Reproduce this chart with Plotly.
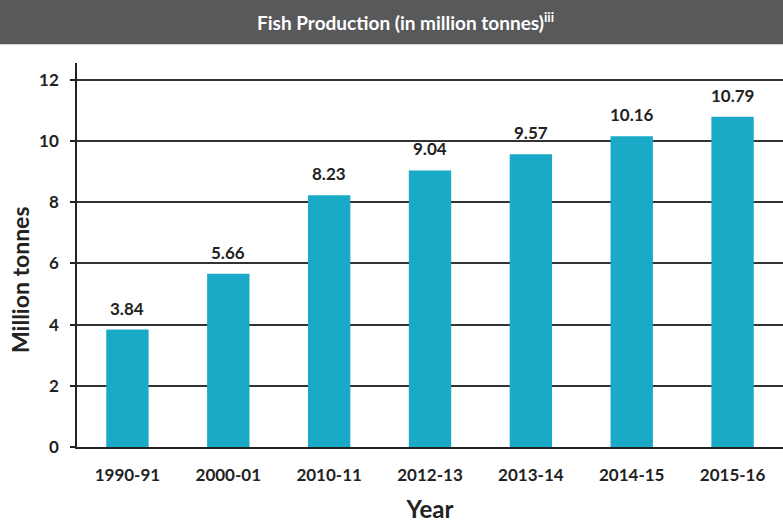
import plotly.graph_objects as go

years = ["1990-91", "2000-01", "2010-11", "2012-13", "2013-14", "2014-15", "2015-16"]
production = [3.84, 5.66, 8.23, 9.04, 9.57, 10.16, 10.79]
y_ticks = [0, 2, 4, 6, 8, 10, 12]
title_text = "Fish Production (in million tonnes)<sup>iii</sup>"
y_title = "Million tonnes"
x_title = "Year"
FONT = "Lato, Roboto, sans-serif"
DARK = "#222222"

fig = go.Figure()
fig.add_trace(go.Bar(
    x=years, y=production,
    marker=dict(color="#1AAAC8", line=dict(width=0)),
    width=0.42,
    hoverinfo="x+y",
))

annotations = [dict(text=title_text, xref="paper", yref="paper",
                    x=0.4646, y=1.107, showarrow=False,
                    xanchor="center", yanchor="middle",
                    font=dict(family=FONT, size=19, color="white", weight="bold")),
               dict(text=y_title, xref="paper", yref="paper",
                    x=-0.0807, y=0.435, showarrow=False, textangle=-90,
                    xanchor="center", yanchor="middle",
                    font=dict(family=FONT, size=23, color=DARK, weight="bold"))]
for yr, v in zip(years, production):
    annotations.append(dict(text=f"{v:.2f}", x=yr, y=v, xref="x", yref="y",
                            showarrow=False, yanchor="bottom", yshift=9,
                            font=dict(family=FONT, size=17, color=DARK, weight="bold")))

fig.update_layout(
    width=783, height=523,
    margin=dict(l=77, r=0, t=63, b=76),
    paper_bgcolor="white", plot_bgcolor="white",
    showlegend=False,
    font=dict(family=FONT, color=DARK),
    shapes=[dict(type="rect", xref="paper", yref="paper",
                 x0=-0.2, x1=1.1, y0=1.049, y1=1.2,
                 fillcolor="#58595B", line=dict(width=0), layer="above")],
    annotations=annotations,
)

fig.update_xaxes(
    type="category",
    showline=True, linecolor=DARK, linewidth=1.5,
    ticks="", showgrid=False,
    tickfont=dict(family=FONT, size=17, color=DARK, weight="bold"),
    ticklabelstandoff=12,
    title=dict(text=x_title, font=dict(family=FONT, size=24, color=DARK, weight="bold"), standoff=17),
)
fig.update_yaxes(
    range=[0, 12.55], tickvals=y_ticks,
    showline=True, linecolor=DARK, linewidth=1.5,
    ticks="outside", ticklen=5, tickcolor=DARK, tickwidth=1.5,
    showgrid=True, gridcolor="#333333", gridwidth=1.5,
    zeroline=False,
    tickfont=dict(family=FONT, size=17, color=DARK, weight="bold"),
    ticklabelstandoff=8,
)

fig.write_html("out.html", config={"displayModeBar": False},
               post_script="document.body.style.margin='0';document.body.style.overflow='hidden';")
